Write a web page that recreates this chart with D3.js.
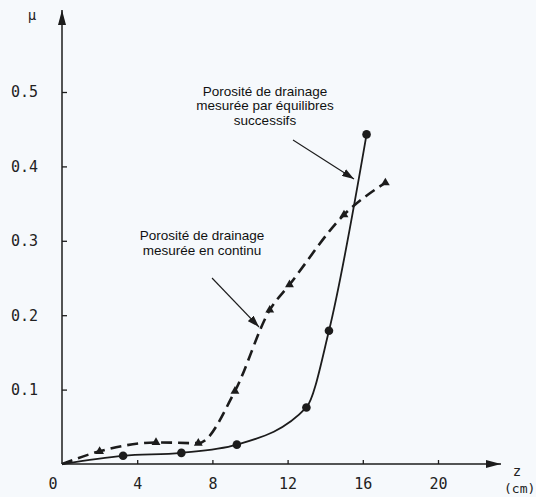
<!DOCTYPE html>
<html>
<head>
<meta charset="utf-8">
<script src="https://cdn.jsdelivr.net/npm/d3@7"></script>
<style>
  html, body { margin: 0; padding: 0; background: #f6f9fc; }
  svg { display: block; }
</style>
</head>
<body>
<div id="chart"></div>
<script>

// porosité mesurée en continu (pointillés, triangles)
var zContinu  = [0, 2.0, 5.0, 7.25, 9.2, 11.05, 12.1, 15.0, 17.2];
var muContinu = [0, 0.017, 0.029, 0.028, 0.098, 0.207, 0.241, 0.335, 0.378];

// porosité par équilibres successifs (trait plein, ronds)
var zEquil  = [0, 3.25, 6.35, 9.3, 13.0, 14.2, 16.2];
var muEquil = [0, 0.011, 0.015, 0.026, 0.076, 0.179, 0.443];

var xTicks = [4, 8, 12, 16, 20];
var yTicks = [0.1, 0.2, 0.3, 0.4, 0.5];

var width = 536, height = 497;
var ink = "#1c1c1c";

var svg = d3.select("#chart").append("svg")
    .attr("width", width)
    .attr("height", height);

svg.append("rect")
    .attr("width", width).attr("height", height)
    .attr("fill", "#f6f9fc");

var x = d3.scaleLinear().domain([0, 20]).range([62, 438]);
var y = d3.scaleLinear().domain([0, 0.5]).range([464, 92]);

// arrow heads
var defs = svg.append("defs");
defs.append("marker")
    .attr("id", "head")
    .attr("viewBox", "0 0 12 8")
    .attr("refX", 12).attr("refY", 4)
    .attr("markerWidth", 12).attr("markerHeight", 8)
    .attr("markerUnits", "userSpaceOnUse")
    .attr("orient", "auto")
  .append("path")
    .attr("d", "M0,0 L12,4 L0,8 Z")
    .attr("fill", ink);
defs.append("marker")
    .attr("id", "axhead")
    .attr("viewBox", "0 0 15 8")
    .attr("refX", 15).attr("refY", 4)
    .attr("markerWidth", 15).attr("markerHeight", 8)
    .attr("markerUnits", "userSpaceOnUse")
    .attr("orient", "auto")
  .append("path")
    .attr("d", "M0,0 L15,4 L0,8 Z")
    .attr("fill", ink);

// axes lines with arrows
svg.append("line")
    .attr("x1", x(0)).attr("y1", y(0))
    .attr("x2", x(0)).attr("y2", 10)
    .attr("stroke", ink).attr("stroke-width", 1.5)
    .attr("marker-end", "url(#axhead)");
svg.append("line")
    .attr("x1", x(0)).attr("y1", y(0))
    .attr("x2", 501).attr("y2", y(0))
    .attr("stroke", ink).attr("stroke-width", 1.5)
    .attr("marker-end", "url(#axhead)");

var tickFont = "'DejaVu Sans Mono', monospace";

var yAxis = svg.append("g")
    .attr("transform", "translate(" + x(0) + ",0)")
    .call(d3.axisLeft(y).tickValues(yTicks).tickSize(-5).tickPadding(24)
      .tickFormat(d3.format(".1f")));
var xAxis = svg.append("g")
    .attr("transform", "translate(0," + y(0) + ")")
    .call(d3.axisBottom(x).tickValues(xTicks).tickSize(-4).tickPadding(14)
      .tickFormat(d3.format("d")));

[yAxis, xAxis].forEach(function(g) {
  g.select(".domain").remove();
  g.selectAll("line").attr("stroke", ink).attr("stroke-width", 1.3);
  g.selectAll("text")
    .attr("fill", "#222")
    .style("font-family", tickFont)
    .style("font-size", "15px");
});

// origin label and axis titles
svg.append("text")
    .attr("x", 53).attr("y", 488.5)
    .attr("text-anchor", "middle")
    .style("font-family", tickFont).style("font-size", "15px")
    .attr("fill", "#222")
    .text("0");
svg.append("text")
    .attr("x", 32).attr("y", 20)
    .attr("text-anchor", "middle")
    .style("font-family", tickFont).style("font-size", "14px")
    .attr("fill", "#222")
    .text("μ");
svg.append("text")
    .attr("x", 517).attr("y", 476)
    .attr("text-anchor", "middle")
    .style("font-family", tickFont).style("font-size", "14px")
    .attr("fill", "#222")
    .text("z");
svg.append("text")
    .attr("x", 504).attr("y", 493)
    .style("font-family", tickFont).style("font-size", "13px")
    .attr("fill", "#222")
    .text("(cm)");

// curves
var line = d3.line()
    .x(function(d) { return x(d[0]); })
    .y(function(d) { return y(d[1]); })
    .curve(d3.curveMonotoneX);

var continu = zContinu.map(function(z, i) { return [z, muContinu[i]]; });
var equil = zEquil.map(function(z, i) { return [z, muEquil[i]]; });

svg.append("path")
    .datum(continu)
    .attr("d", line)
    .attr("fill", "none")
    .attr("stroke", ink)
    .attr("stroke-width", 2.6)
    .attr("stroke-dasharray", "11,6");

svg.append("path")
    .datum(equil)
    .attr("d", line)
    .attr("fill", "none")
    .attr("stroke", ink)
    .attr("stroke-width", 1.8);

// markers
svg.append("g").selectAll("path")
    .data(continu.slice(1))
  .enter().append("path")
    .attr("transform", function(d) { return "translate(" + x(d[0]) + "," + y(d[1]) + ")"; })
    .attr("d", d3.symbol().type(d3.symbolTriangle).size(34))
    .attr("fill", ink);

svg.append("g").selectAll("circle")
    .data(equil.slice(1))
  .enter().append("circle")
    .attr("cx", function(d) { return x(d[0]); })
    .attr("cy", function(d) { return y(d[1]); })
    .attr("r", 4.3)
    .attr("fill", ink);

// annotations
var noteFont = "'Liberation Sans', Arial, sans-serif";
function note(lines, cx, y0) {
  svg.append("g").selectAll("text")
      .data(lines)
    .enter().append("text")
      .attr("x", cx)
      .attr("y", function(d, i) { return y0 + i * 14.6; })
      .attr("text-anchor", "middle")
      .style("font-family", noteFont)
      .style("font-size", "13.5px")
      .attr("fill", "#111")
      .text(function(d) { return d; });
}
note(["Porosité de drainage", "mesurée par équilibres", "successifs"], 265, 95.5);
note(["Porosité de drainage", "mesurée en continu"], 202, 240);

svg.append("line")
    .attr("x1", 293).attr("y1", 140).attr("x2", 354).attr("y2", 179)
    .attr("stroke", ink).attr("stroke-width", 1.1)
    .attr("marker-end", "url(#head)");
svg.append("line")
    .attr("x1", 212).attr("y1", 278).attr("x2", 259).attr("y2", 327)
    .attr("stroke", ink).attr("stroke-width", 1.1)
    .attr("marker-end", "url(#head)");

</script>
</body>
</html>
